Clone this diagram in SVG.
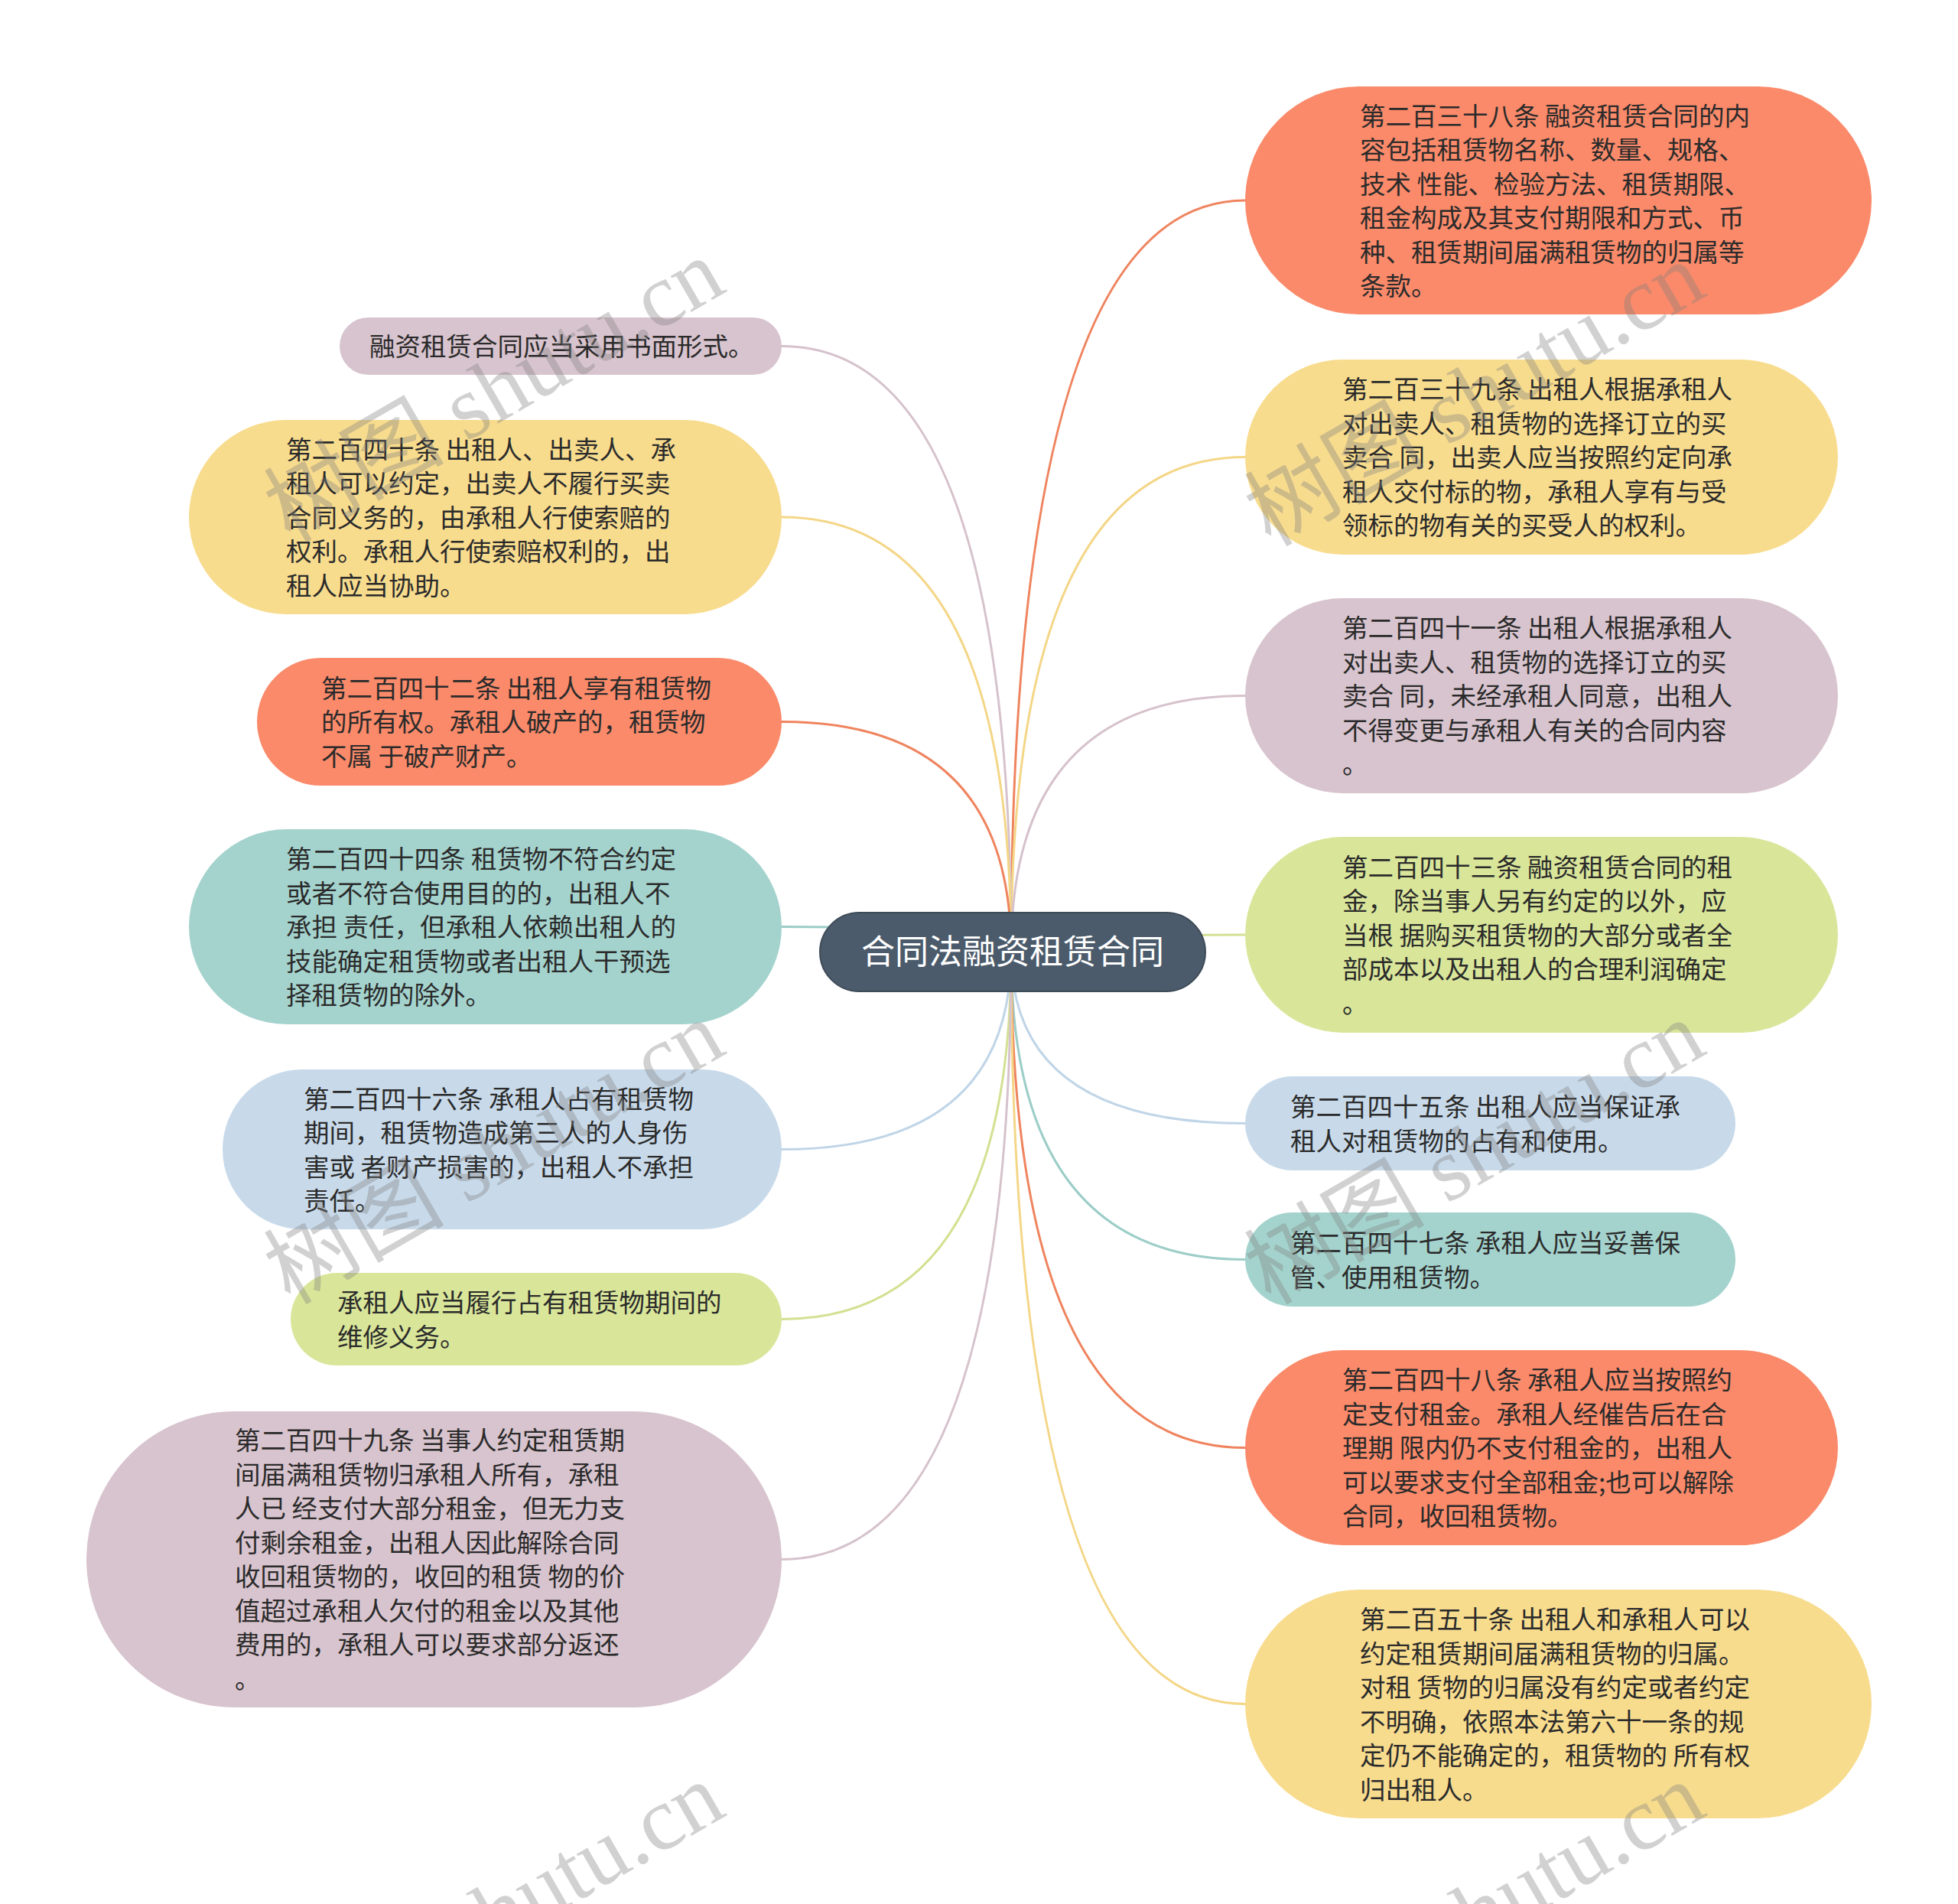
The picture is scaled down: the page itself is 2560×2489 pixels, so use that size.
<svg xmlns="http://www.w3.org/2000/svg" width="2560" height="2489" viewBox="0 0 2560 2489">
<style>
.t{font-family:"Noto Sans CJK SC","Noto Sans",sans-serif;font-size:33.5px;fill:#2b2b2b}
.c{font-family:"Noto Sans CJK SC","Noto Sans",sans-serif;font-size:44px;fill:#ffffff}
.w{font-family:"Liberation Serif","Noto Sans CJK SC",serif;font-size:118px;fill:#808080;fill-opacity:0.36}
.e{fill:none;stroke-width:3}
.or{fill:#FA8A6A}.ye{fill:#F8DC8E}.ma{fill:#D8C4CE}.te{fill:#A4D3CE}.bl{fill:#C8DAEA}.li{fill:#D9E69A}
.lor{stroke:#EF845F}.lye{stroke:#F4D687}.lma{stroke:#D6C2CC}.lte{stroke:#9CCDC7}.lbl{stroke:#C0D5E7}.lli{stroke:#D3E192}
</style>
<rect width="2560" height="2489" fill="#ffffff"/>
<g id="connectors">
<path class="e lor" d="M1322 1244 Q1322 262 1628 262"/>
<path class="e lye" d="M1322 1244 Q1322 597.5 1628 597.5"/>
<path class="e lma" d="M1322 1244 Q1322 909.5 1628 909.5"/>
<path class="e lli" d="M1322 1244 Q1322 1222 1628 1222"/>
<path class="e lbl" d="M1322 1244 Q1322 1468.5 1628 1468.5"/>
<path class="e lte" d="M1322 1244 Q1322 1646.5 1628 1646.5"/>
<path class="e lor" d="M1322 1244 Q1322 1892.5 1628 1892.5"/>
<path class="e lye" d="M1322 1244 Q1322 2227.5 1628 2227.5"/>
<path class="e lma" d="M1322 1244 Q1322 452.5 1022 452.5"/>
<path class="e lye" d="M1322 1244 Q1322 676 1022 676"/>
<path class="e lor" d="M1322 1244 Q1322 943.5 1022 943.5"/>
<path class="e lte" d="M1322 1244 Q1322 1211.5 1022 1211.5"/>
<path class="e lbl" d="M1322 1244 Q1322 1502.5 1022 1502.5"/>
<path class="e lli" d="M1322 1244 Q1322 1724.5 1022 1724.5"/>
<path class="e lma" d="M1322 1244 Q1322 2038.5 1022 2038.5"/>
</g>
<g id="center">
<rect x="1072" y="1193" width="504" height="103" rx="51.5" fill="#4B5B6B" stroke="#3E4B58" stroke-width="2"/>
<text class="c" x="1324" y="1260" text-anchor="middle">合同法融资租赁合同</text>
</g>
<g id="n238">
<rect class="or" x="1628" y="113" width="819" height="298" rx="149"/>
<text class="t"><tspan x="1778" y="163.5">第二百三十八条 融资租赁合同的内</tspan><tspan x="1778" y="208">容包括租赁物名称、数量、规格、</tspan><tspan x="1778" y="252.5">技术 性能、检验方法、租赁期限、</tspan><tspan x="1778" y="297">租金构成及其支付期限和方式、币</tspan><tspan x="1778" y="341.5">种、租赁期间届满租赁物的归属等</tspan><tspan x="1778" y="386">条款。</tspan></text>
</g>
<g id="n239">
<rect class="ye" x="1628" y="470" width="775" height="255" rx="127.5"/>
<text class="t"><tspan x="1755" y="521">第二百三十九条 出租人根据承租人</tspan><tspan x="1755" y="565.5">对出卖人、租赁物的选择订立的买</tspan><tspan x="1755" y="610">卖合 同，出卖人应当按照约定向承</tspan><tspan x="1755" y="654.5">租人交付标的物，承租人享有与受</tspan><tspan x="1755" y="699">领标的物有关的买受人的权利。</tspan></text>
</g>
<g id="n241">
<rect class="ma" x="1628" y="782" width="775" height="255" rx="127.5"/>
<text class="t"><tspan x="1755" y="833">第二百四十一条 出租人根据承租人</tspan><tspan x="1755" y="877.5">对出卖人、租赁物的选择订立的买</tspan><tspan x="1755" y="922">卖合 同，未经承租人同意，出租人</tspan><tspan x="1755" y="966.5">不得变更与承租人有关的合同内容</tspan><tspan x="1755" y="1011">。</tspan></text>
</g>
<g id="n243">
<rect class="li" x="1628" y="1094" width="775" height="256" rx="128"/>
<text class="t"><tspan x="1755" y="1145.5">第二百四十三条 融资租赁合同的租</tspan><tspan x="1755" y="1190">金，除当事人另有约定的以外，应</tspan><tspan x="1755" y="1234.5">当根 据购买租赁物的大部分或者全</tspan><tspan x="1755" y="1279">部成本以及出租人的合理利润确定</tspan><tspan x="1755" y="1323.5">。</tspan></text>
</g>
<g id="n245">
<rect class="bl" x="1628" y="1407" width="641" height="123" rx="61.5"/>
<text class="t"><tspan x="1687" y="1459">第二百四十五条 出租人应当保证承</tspan><tspan x="1687" y="1503.5">租人对租赁物的占有和使用。</tspan></text>
</g>
<g id="n247">
<rect class="te" x="1628" y="1585" width="641" height="123" rx="61.5"/>
<text class="t"><tspan x="1687" y="1637">第二百四十七条 承租人应当妥善保</tspan><tspan x="1687" y="1681.5">管、使用租赁物。</tspan></text>
</g>
<g id="n248">
<rect class="or" x="1628" y="1765" width="775" height="255" rx="127.5"/>
<text class="t"><tspan x="1755" y="1816">第二百四十八条 承租人应当按照约</tspan><tspan x="1755" y="1860.5">定支付租金。承租人经催告后在合</tspan><tspan x="1755" y="1905">理期 限内仍不支付租金的，出租人</tspan><tspan x="1755" y="1949.5">可以要求支付全部租金;也可以解除</tspan><tspan x="1755" y="1994">合同，收回租赁物。</tspan></text>
</g>
<g id="n250">
<rect class="ye" x="1628" y="2078" width="819" height="299" rx="149.5"/>
<text class="t"><tspan x="1778" y="2129">第二百五十条 出租人和承租人可以</tspan><tspan x="1778" y="2173.5">约定租赁期间届满租赁物的归属。</tspan><tspan x="1778" y="2218">对租 赁物的归属没有约定或者约定</tspan><tspan x="1778" y="2262.5">不明确，依照本法第六十一条的规</tspan><tspan x="1778" y="2307">定仍不能确定的，租赁物的 所有权</tspan><tspan x="1778" y="2351.5">归出租人。</tspan></text>
</g>
<g id="nform">
<rect class="ma" x="444" y="415" width="578" height="75" rx="37.5"/>
<text class="t" x="483" y="465">融资租赁合同应当采用书面形式。</text>
</g>
<g id="n240">
<rect class="ye" x="247" y="549" width="775" height="254" rx="127"/>
<text class="t"><tspan x="374" y="599.5">第二百四十条 出租人、出卖人、承</tspan><tspan x="374" y="644">租人可以约定，出卖人不履行买卖</tspan><tspan x="374" y="688.5">合同义务的，由承租人行使索赔的</tspan><tspan x="374" y="733">权利。承租人行使索赔权利的，出</tspan><tspan x="374" y="777.5">租人应当协助。</tspan></text>
</g>
<g id="n242">
<rect class="or" x="336" y="860" width="686" height="167" rx="83.5"/>
<text class="t"><tspan x="420" y="911.5">第二百四十二条 出租人享有租赁物</tspan><tspan x="420" y="956">的所有权。承租人破产的，租赁物</tspan><tspan x="420" y="1000.5">不属 于破产财产。</tspan></text>
</g>
<g id="n244">
<rect class="te" x="247" y="1084" width="775" height="255" rx="127.5"/>
<text class="t"><tspan x="374" y="1135">第二百四十四条 租赁物不符合约定</tspan><tspan x="374" y="1179.5">或者不符合使用目的的，出租人不</tspan><tspan x="374" y="1224">承担 责任，但承租人依赖出租人的</tspan><tspan x="374" y="1268.5">技能确定租赁物或者出租人干预选</tspan><tspan x="374" y="1313">择租赁物的除外。</tspan></text>
</g>
<g id="n246">
<rect class="bl" x="291" y="1398" width="731" height="209" rx="104.5"/>
<text class="t"><tspan x="397" y="1448.5">第二百四十六条 承租人占有租赁物</tspan><tspan x="397" y="1493">期间，租赁物造成第三人的人身伤</tspan><tspan x="397" y="1537.5">害或 者财产损害的，出租人不承担</tspan><tspan x="397" y="1582">责任。</tspan></text>
</g>
<g id="nrepair">
<rect class="li" x="380" y="1664" width="642" height="121" rx="60.5"/>
<text class="t"><tspan x="441" y="1715">承租人应当履行占有租赁物期间的</tspan><tspan x="441" y="1759.5">维修义务。</tspan></text>
</g>
<g id="n249">
<rect class="ma" x="113" y="1845" width="909" height="387" rx="193.5"/>
<text class="t"><tspan x="307" y="1895">第二百四十九条 当事人约定租赁期</tspan><tspan x="307" y="1939.5">间届满租赁物归承租人所有，承租</tspan><tspan x="307" y="1984">人已 经支付大部分租金，但无力支</tspan><tspan x="307" y="2028.5">付剩余租金，出租人因此解除合同</tspan><tspan x="307" y="2073">收回租赁物的，收回的租赁 物的价</tspan><tspan x="307" y="2117.5">值超过承租人欠付的租金以及其他</tspan><tspan x="307" y="2162">费用的，承租人可以要求部分返还</tspan><tspan x="307" y="2207">。</tspan></text>
</g>
<g id="watermarks">
<text class="w" x="648" y="550" text-anchor="middle" transform="rotate(-30 648 514)">树图 shutu.cn</text>
<text class="w" x="1930" y="555" text-anchor="middle" transform="rotate(-30 1930 519)">树图 shutu.cn</text>
<text class="w" x="648" y="1546" text-anchor="middle" transform="rotate(-30 648 1510)">树图 shutu.cn</text>
<text class="w" x="1930" y="1546" text-anchor="middle" transform="rotate(-30 1930 1510)">树图 shutu.cn</text>
<text class="w" x="648" y="2542" text-anchor="middle" transform="rotate(-30 648 2506)">树图 shutu.cn</text>
<text class="w" x="1930" y="2542" text-anchor="middle" transform="rotate(-30 1930 2506)">树图 shutu.cn</text>
</g>
</svg>
